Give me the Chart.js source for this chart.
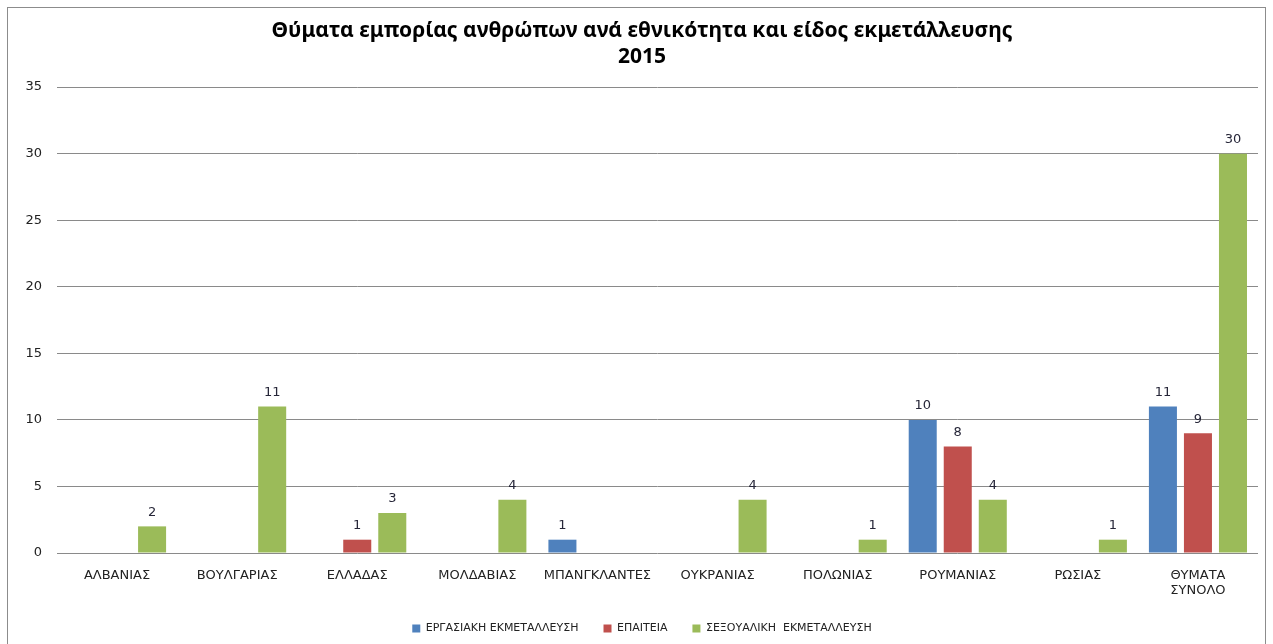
<!DOCTYPE html>
<html>
<head>
<meta charset="utf-8">
<script src="https://cdn.jsdelivr.net/npm/chart.js@4.4.1/dist/chart.umd.min.js"></script>
<style>
  html, body { margin: 0; padding: 0; background: #fff; overflow: hidden; }
  .frame { position: absolute; left: 7px; top: 7px; width: 1257px; height: 656px; border: 1px solid #8c8c8c; }
  canvas { display: block; }
</style>
</head>
<body>
<div class="frame">
  <canvas id="chart" width="1257" height="656"></canvas>
</div>
<script>
const categories = ['ΑΛΒΑΝΙΑΣ', 'ΒΟΥΛΓΑΡΙΑΣ', 'ΕΛΛΑΔΑΣ', 'ΜΟΛΔΑΒΙΑΣ', 'ΜΠΑΝΓΚΛΑΝΤΕΣ',
  'ΟΥΚΡΑΝΙΑΣ', 'ΠΟΛΩΝΙΑΣ', 'ΡΟΥΜΑΝΙΑΣ', 'ΡΩΣΙΑΣ', ['ΘΥΜΑΤΑ', 'ΣΥΝΟΛΟ']];
const laborValues = [0, 0, 0, 0, 1, 0, 0, 10, 0, 11];
const beggingValues = [0, 0, 1, 0, 0, 0, 0, 8, 0, 9];
const sexualValues = [2, 11, 3, 4, 0, 4, 1, 4, 1, 30];
const yTicks = [0, 5, 10, 15, 20, 25, 30, 35];

const axisFont = { family: 'DejaVu Sans', size: 13, lineHeight: 1.15 };

// value labels above the bars, zeros are skipped like in the original
const barLabels = {
  id: 'barLabels',
  afterDatasetsDraw(chart) {
    const ctx = chart.ctx;
    ctx.save();
    ctx.font = '13px "DejaVu Sans"';
    ctx.fillStyle = '#262638';
    ctx.textAlign = 'center';
    ctx.textBaseline = 'middle';
    chart.data.datasets.forEach((ds, i) => {
      chart.getDatasetMeta(i).data.forEach((bar, j) => {
        const v = ds.data[j];
        if (!v) return;
        ctx.fillText(String(v), bar.x, bar.y - 14);
      });
    });
    ctx.restore();
  }
};

new Chart(document.getElementById('chart'), {
  type: 'bar',
  data: {
    labels: categories,
    datasets: [
      { label: 'ΕΡΓΑΣΙΑΚΗ ΕΚΜΕΤΑΛΛΕΥΣΗ', data: laborValues, backgroundColor: '#4F81BD' },
      { label: 'ΕΠΑΙΤΕΙΑ', data: beggingValues, backgroundColor: '#C0504D' },
      { label: 'ΣΕΞΟΥΑΛΙΚΗ  ΕΚΜΕΤΑΛΛΕΥΣΗ', data: sexualValues, backgroundColor: '#9BBB59' }
    ]
  },
  options: {
    responsive: false,
    animation: false,
    devicePixelRatio: 1,
    categoryPercentage: 0.875,
    barPercentage: 0.8,
    layout: { padding: { left: 18, right: 7, top: 0, bottom: 20 } },
    plugins: {
      title: {
        display: true,
        text: ['Θύματα εμπορίας ανθρώπων ανά εθνικότητα και είδος εκμετάλλευσης', '2015'],
        font: { family: 'Noto Sans', size: 21, weight: 'bold', lineHeight: 1.24 },
        color: '#000',
        padding: { top: 10, bottom: 17 }
      },
      legend: {
        position: 'bottom',
        labels: {
          font: { family: 'DejaVu Sans', size: 11 },
          color: '#222',
          boxWidth: 8,
          boxHeight: 8,
          padding: 25
        }
      },
      tooltip: { enabled: false }
    },
    scales: {
      x: {
        grid: { display: false, drawTicks: false },
        border: { display: false },
        ticks: { font: axisFont, color: '#222', padding: 15, maxRotation: 0, autoSkip: false },
        afterFit(scale) { scale.height = 45; }
      },
      y: {
        min: 0,
        max: 35,
        afterBuildTicks(scale) { scale.ticks = yTicks.map(v => ({ value: v })); },
        grid: { color: '#8a8a8a', drawTicks: false },
        border: { display: false },
        ticks: { font: axisFont, color: '#222', padding: 15 },
        afterFit(scale) { scale.width = 31; }
      }
    }
  },
  plugins: [barLabels]
});
</script>
</body>
</html>
